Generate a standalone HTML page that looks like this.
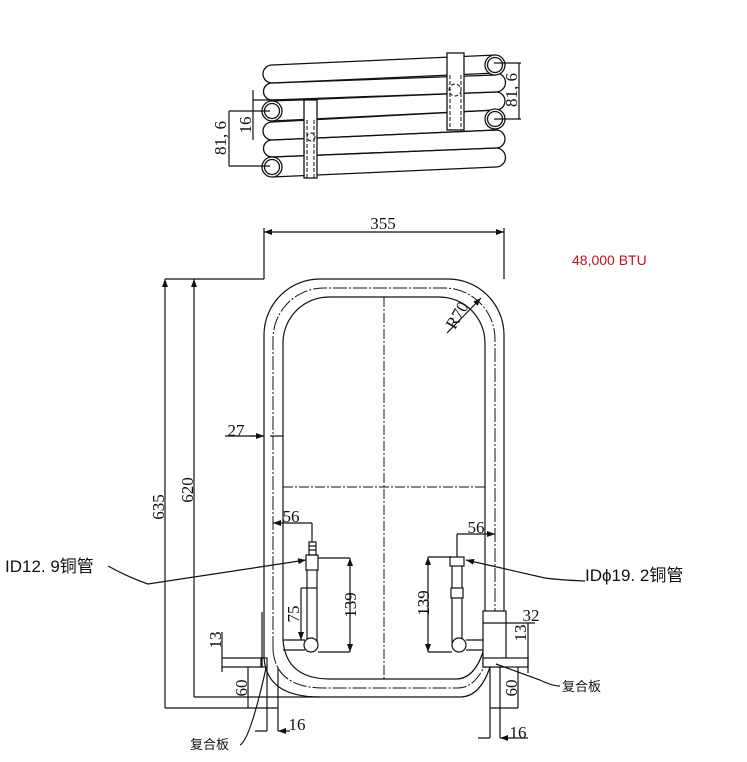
<!DOCTYPE html>
<html><head><meta charset="utf-8"><style>
html,body{margin:0;padding:0;background:#fff;}
svg{display:block;}
text{font-family:"Liberation Serif","Noto Serif CJK SC",serif;fill:#111;}
.c{font-family:"Liberation Sans","Noto Sans CJK SC",sans-serif;}
</style></head><body>
<svg width="747" height="762" viewBox="0 0 747 762" xmlns="http://www.w3.org/2000/svg">
<defs>
<marker id="a" markerWidth="8" markerHeight="6" refX="8" refY="3" orient="auto-start-reverse" markerUnits="userSpaceOnUse"><path d="M0,0 L8,3 L0,6z" fill="#111"/></marker>
</defs>
<g stroke="#111" stroke-width="1.2" fill="none">
<!-- TOP COIL tubes -->
<g stroke-width="1.3">
<path d="M272,65 L496,55 M272,83 L496,75"/>
<path d="M272,83 L496,73 M272,100 L496,92"/>
<path d="M272,101 L496,92 M272,121 L496,110"/>
<path d="M272,122 L496,110 M272,140 L496,130"/>
<path d="M272,140 L496,130 M272,157 L496,148"/>
<path d="M272,157 L496,148 M272,177 L496,167"/>
<!-- left bends -->
<path d="M272,65 A9,9 0 0 0 272,83 A8.5,8.5 0 0 0 272,100"/>
<path d="M272,122 A9,9 0 0 0 272,140 A8.5,8.5 0 0 0 272,157"/>
<!-- right bends -->
<path d="M496,73 A9.5,9.5 0 0 1 496,92 A9,9 0 0 1 496,110"/>
<path d="M496,130 A9,9 0 0 1 496,148 A9.5,9.5 0 0 1 496,167"/>
</g>
<g fill="#fff" stroke-width="1.3">
<circle cx="272" cy="111" r="10"/><circle cx="272" cy="111" r="7.5"/>
<circle cx="272" cy="167" r="10"/><circle cx="272" cy="167" r="7.5"/>
<circle cx="495" cy="65" r="10"/><circle cx="495" cy="65" r="7.5"/>
<circle cx="495" cy="119" r="10"/><circle cx="495" cy="119" r="7.5"/>
<rect x="304" y="100" width="13" height="78"/>
<rect x="447" y="53" width="17" height="77"/>
</g>
<g stroke-dasharray="4,2" stroke-width="1">
<path d="M307,120 V178 M314,120 V178 M450,75 V130 M461,75 V130"/>
<circle cx="311" cy="137" r="4"/><circle cx="455" cy="90" r="6"/>
</g>
<!-- top dims -->
<path d="M253,100 H305 M229,111 H270 M229,166 H270 M494,63 H521 M494,119 H521"/>
<path d="M253,90 V140 M229,111 V166 M519,63 V119"/>
</g>
<text transform="translate(226,138) rotate(-90)" font-size="17" text-anchor="middle">81, 6</text>
<text transform="translate(251,125) rotate(-90)" font-size="17" text-anchor="middle">16</text>
<text transform="translate(517,90) rotate(-90)" font-size="17" text-anchor="middle">81, 6</text>

<g stroke="#111" stroke-width="1.2" fill="none">
<!-- main frame -->
<path d="M264,657 V335 A56,56 0 0 1 320,279 H448 A56,56 0 0 1 504,335 V611"/>
<path d="M283,640 V343 A46,46 0 0 1 329,297 H439 A46,46 0 0 1 485,343 V611"/>
<path d="M273,650 V339 A51,51 0 0 1 324,288 H444 A51,51 0 0 1 495,339 V611" stroke-dasharray="14,2,2,2" stroke-width="1"/>
<path d="M264,657 Q266,697 320,697 H460 Q480,697 490,667"/>
<path d="M273,650 Q276,688 324,688 H458 Q476,688 487,660" stroke-dasharray="14,2,2,2" stroke-width="1"/>
<path d="M283,640 Q286,679 330,679 H456 Q474,679 483,652"/>
<path d="M384,297 V679 M283,487 H485" stroke-dasharray="10,2,2,2" stroke-width="1"/>
<!-- 355 -->
<path d="M264,228 V279 M504,228 V279"/>
<path d="M264,232 H504" marker-start="url(#a)" marker-end="url(#a)"/>
<!-- 635/620 -->
<path d="M165,279 H264 M165,708 H278 M194,697 H320"/>
<path d="M165,279 V708" marker-start="url(#a)"/>
<path d="M194,279 V697" marker-start="url(#a)"/>
<!-- 27 -->
<path d="M225,436 H264"/><path d="M250,436 H264" marker-end="url(#a)"/><path d="M283,436 H270"/>
<!-- R70 -->
<path d="M447,333 L481,298" marker-end="url(#a)"/>
<!-- left plate & pipe -->
<path d="M262,612 V667"/>
<rect x="261" y="658" width="6" height="9"/>
<path d="M222,658 H262 M222,667 H262"/>
<path d="M222,632 V672"/>
<path d="M267,667 V731 M278,667 V731"/>
<path d="M248,667 V708"/>
<path d="M255,731 H267 M290,731 H278" marker-end="url(#a)"/>
<path d="M240,745 Q250,740 266,668"/>
<!-- left inlet -->
<rect x="307" y="560" width="10" height="82"/>
<rect x="306" y="555" width="12" height="15" fill="#fff"/>
<rect x="309" y="542" width="7" height="13"/>
<path d="M309,546 H316 M309,550 H316"/>
<path d="M283,640 H305 M283,650 H305"/>
<circle cx="311" cy="645" r="7" fill="#fff"/>
<path d="M273,523 H312" marker-start="url(#a)"/>
<path d="M312,523 V542"/>
<path d="M318,558 H350 M318,652 H350"/>
<path d="M350,558 V652" marker-start="url(#a)" marker-end="url(#a)"/>
<path d="M301,588 H317"/><path d="M301,588 V640" marker-end="url(#a)"/>
<path d="M108,566 Q130,578 148,584 L306,560" marker-end="url(#a)"/>
<!-- right box -->
<rect x="483" y="611" width="23" height="56" fill="#fff"/>
<rect x="483" y="658" width="45" height="9" fill="#fff"/>
<path d="M483,623 H535"/>
<path d="M528,623 V673"/>
<path d="M490,667 V738 M500,667 V738"/>
<path d="M518,667 V708 M490,708 H518"/>
<path d="M478,738 H490 M512,738 H500" marker-end="url(#a)"/><path d="M512,738 H528"/>
<path d="M496,664 L540,680 Q552,686 560,686"/>
<!-- right inlet -->
<rect x="452" y="560" width="10" height="82"/>
<rect x="450" y="557" width="14" height="9" fill="#fff"/>
<rect x="451" y="588" width="12" height="10" fill="#fff"/>
<path d="M466,640 H483 M466,650 H483"/>
<circle cx="459" cy="645" r="7" fill="#fff"/>
<path d="M457,534 H495" marker-end="url(#a)"/>
<path d="M457,534 V557"/>
<path d="M428,557 H452 M428,652 H452"/>
<path d="M428,557 V652" marker-start="url(#a)" marker-end="url(#a)"/>
<path d="M585,581 Q560,580 545,578 L466,560" marker-end="url(#a)"/>
</g>
<text x="383" y="229" font-size="17" text-anchor="middle">355</text>
<text x="572" y="265" font-size="14" class="c" style="fill:#c0161b">48,000 BTU</text>
<text transform="translate(462,318) rotate(-60)" font-size="17" text-anchor="middle">R70</text>
<text x="236" y="436" font-size="17" text-anchor="middle">27</text>
<text transform="translate(164,507) rotate(-90)" font-size="17" text-anchor="middle">635</text>
<text transform="translate(193,490) rotate(-90)" font-size="17" text-anchor="middle">620</text>
<text x="291" y="522" font-size="17" text-anchor="middle">56</text>
<text x="476" y="533" font-size="17" text-anchor="middle">56</text>
<text transform="translate(356,605) rotate(-90)" font-size="17" text-anchor="middle">139</text>
<text transform="translate(429,603) rotate(-90)" font-size="17" text-anchor="middle">139</text>
<text transform="translate(299,614) rotate(-90)" font-size="17" text-anchor="middle">75</text>
<text transform="translate(221,640) rotate(-90)" font-size="17" text-anchor="middle">13</text>
<text transform="translate(526,633) rotate(-90)" font-size="17" text-anchor="middle">13</text>
<text x="531" y="621" font-size="17" text-anchor="middle">32</text>
<text transform="translate(247,688) rotate(-90)" font-size="17" text-anchor="middle">60</text>
<text transform="translate(517,688) rotate(-90)" font-size="17" text-anchor="middle">60</text>
<text x="297" y="730" font-size="17" text-anchor="middle">16</text>
<text x="518" y="738" font-size="17" text-anchor="middle">16</text>
<text x="190" y="749" font-size="13" class="c">复合板</text>
<text x="562" y="691" font-size="13" class="c">复合板</text>
<text x="5" y="572" font-size="17" class="c">ID12. 9铜管</text>
<text x="585" y="581" font-size="17" class="c">IDϕ19. 2铜管</text>
</svg>
</body></html>
